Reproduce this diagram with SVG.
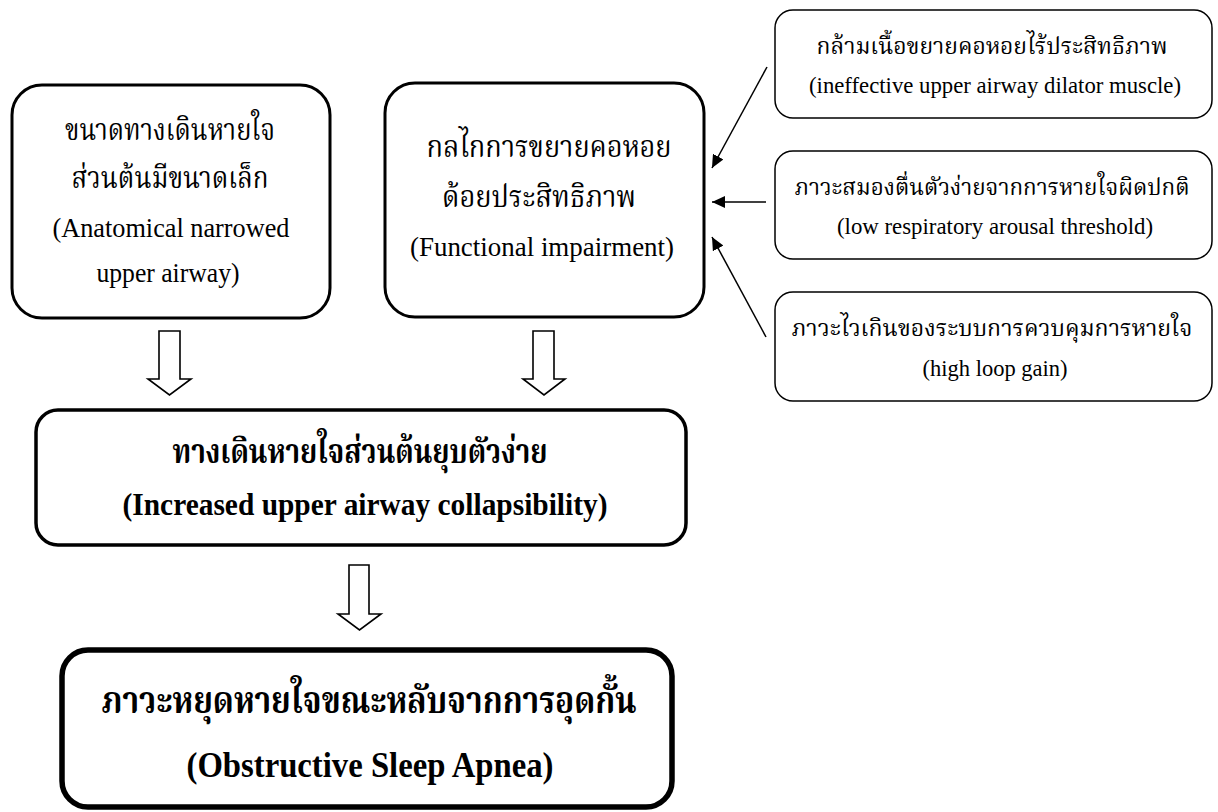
<svg xmlns="http://www.w3.org/2000/svg" width="1218" height="812" viewBox="0 0 1218 812">
<style>
.t{font-family:"Liberation Serif","Noto Serif Thai","Noto Sans Thai","DejaVu Serif",serif;fill:#000;text-anchor:middle}
.b{font-weight:bold}
.box{fill:#fff;stroke:#000}
.hol{fill:#fff;stroke:#000;stroke-width:1.6;stroke-linejoin:miter}
.con{stroke:#000;stroke-width:1.5;fill:none}
</style>
<defs>
<marker id="ah" markerUnits="userSpaceOnUse" markerWidth="14" markerHeight="12" refX="13" refY="6" orient="auto">
<path d="M0,0 L13,6 L0,12 z" fill="#000"/>
</marker>
</defs>
<rect width="1218" height="812" fill="#fff"/>

<g id="node-anatomical">
<rect class="box" x="12" y="85" width="318" height="233" rx="30" stroke-width="3"/>
<text class="t" x="170" y="140" font-size="30" textLength="210" lengthAdjust="spacingAndGlyphs">ขนาดทางเดินหายใจ</text>
<text class="t" x="170" y="188" font-size="30" textLength="197" lengthAdjust="spacingAndGlyphs">ส่วนต้นมีขนาดเล็ก</text>
<text class="t" x="171" y="237" font-size="27" textLength="237" lengthAdjust="spacingAndGlyphs">(Anatomical narrowed</text>
<text class="t" x="168" y="282" font-size="27" textLength="143" lengthAdjust="spacingAndGlyphs">upper airway)</text>
</g>

<g id="node-functional">
<rect class="box" x="385" y="83" width="319" height="234" rx="30" stroke-width="3"/>
<text class="t" x="549" y="157" font-size="30" textLength="245" lengthAdjust="spacingAndGlyphs">กลไกการขยายคอหอย</text>
<text class="t" x="539" y="207" font-size="30" textLength="194" lengthAdjust="spacingAndGlyphs">ด้อยประสิทธิภาพ</text>
<text class="t" x="542" y="256" font-size="27" textLength="264" lengthAdjust="spacingAndGlyphs">(Functional impairment)</text>
</g>

<g id="node-muscle">
<rect class="box" x="775" y="10" width="437" height="108" rx="18" stroke-width="1.5"/>
<text class="t" x="992" y="54" font-size="23" textLength="351" lengthAdjust="spacingAndGlyphs">กล้ามเนื้อขยายคอหอยไร้ประสิทธิภาพ</text>
<text class="t" x="995" y="93" font-size="24" textLength="372" lengthAdjust="spacingAndGlyphs">(ineffective upper airway dilator muscle)</text>
</g>

<g id="node-arousal">
<rect class="box" x="775" y="151" width="437" height="108" rx="18" stroke-width="1.5"/>
<text class="t" x="992" y="195" font-size="22.5" textLength="395" lengthAdjust="spacingAndGlyphs">ภาวะสมองตื่นตัวง่ายจากการหายใจผิดปกติ</text>
<text class="t" x="995" y="234" font-size="24" textLength="316" lengthAdjust="spacingAndGlyphs">(low respiratory arousal threshold)</text>
</g>

<g id="node-loopgain">
<rect class="box" x="775" y="292" width="437" height="109" rx="18" stroke-width="1.5"/>
<text class="t" x="992" y="336" font-size="22.5" textLength="401" lengthAdjust="spacingAndGlyphs">ภาวะไวเกินของระบบการควบคุมการหายใจ</text>
<text class="t" x="995" y="376" font-size="24" textLength="145" lengthAdjust="spacingAndGlyphs">(high loop gain)</text>
</g>

<g id="node-collapsibility">
<rect class="box" x="36" y="410" width="650" height="135" rx="22" stroke-width="3.5"/>
<text class="t b" x="360" y="463" font-size="34" textLength="375" lengthAdjust="spacingAndGlyphs">ทางเดินหายใจส่วนต้นยุบตัวง่าย</text>
<text class="t b" x="365" y="515" font-size="31" textLength="485" lengthAdjust="spacingAndGlyphs">(Increased upper airway collapsibility)</text>
</g>

<g id="node-osa">
<rect class="box" x="62" y="650" width="610" height="157" rx="26" stroke-width="5.5"/>
<text class="t b" x="369" y="713" font-size="37" textLength="535" lengthAdjust="spacingAndGlyphs">ภาวะหยุดหายใจขณะหลับจากการอุดกั้น</text>
<text class="t b" x="370" y="777" font-size="35" textLength="367" lengthAdjust="spacingAndGlyphs">(Obstructive Sleep Apnea)</text>
</g>

<g id="connectors">
<path class="hol" d="M159,331 H180 V379 H191 L169.5,395 L148,379 H159 Z"/>
<path class="hol" d="M533,331 H554 V379 H565 L544,395 L523,379 H533 Z"/>
<path class="hol" d="M349,565 H369 V614 H381 L359.5,630 L338,614 H349 Z"/>
<line class="con" x1="767" y1="67" x2="712" y2="168" marker-end="url(#ah)"/>
<line class="con" x1="766" y1="202" x2="712" y2="202" marker-end="url(#ah)"/>
<line class="con" x1="766" y1="337" x2="712" y2="237" marker-end="url(#ah)"/>
</g>
</svg>
